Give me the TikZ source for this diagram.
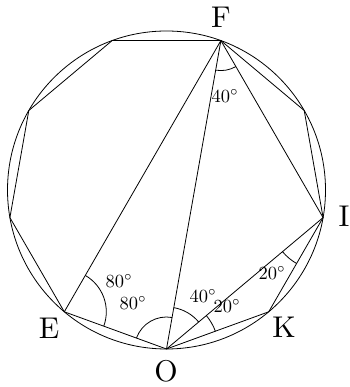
\documentclass[tikz,border=0pt]{standalone}
\usetikzlibrary{angles,calc}
\begin{document}
\begin{tikzpicture}[x=1pt,y=1pt,line width=0.8pt,
  ptlabel/.style={inner sep=0pt,scale=3},
  deglabel/.style={inner sep=0pt,scale=1.85},
  angarc/.style={draw,line width=0.8pt}]
\useasboundingbox (0,0) rectangle (349,387);
\coordinate (C) at (166.5,197);
\def\R{159}
\coordinate (O) at ($(C)+(270:\R)$);
\coordinate (K) at ($(C)+(310:\R)$);
\coordinate (I) at ($(C)+(350:\R)$);
\coordinate (P3) at ($(C)+(30:\R)$);
\coordinate (F) at ($(C)+(70:\R)$);
\coordinate (P5) at ($(C)+(110:\R)$);
\coordinate (P6) at ($(C)+(150:\R)$);
\coordinate (P7) at ($(C)+(190:\R)$);
\coordinate (E) at ($(C)+(230:\R)$);
\draw (C) circle (\R);
\draw (O) -- (K) -- (I) -- (P3) -- (F) -- (P5) -- (P6) -- (P7) -- (E) -- cycle;
\draw (E) -- (F);
\draw (F) -- (O);
\draw (F) -- (I);
\draw (O) -- (I);
\pic [angarc, angle radius=30] {angle = O--F--I};
\pic [angarc, angle radius=42] {angle = O--E--F};
\pic [angarc, angle radius=32] {angle = F--O--E};
\pic [angarc, angle radius=42] {angle = I--O--F};
\pic [angarc, angle radius=52] {angle = K--O--I};
\pic [angarc, angle radius=53] {angle = O--I--K};
\node[ptlabel] (lF) at (221,370) {F};
\node[ptlabel] (lI) at (344,171) {I};
\node[ptlabel] (lK) at (284,60) {K};
\node[ptlabel] (lE) at (49,59) {E};
\node[ptlabel] (lO) at (166,16) {O};
\node[deglabel] (aF) at (225,291) {$40^\circ$};
\node[deglabel] (aE) at (119,106) {$80^\circ$};
\node[deglabel] (aO1) at (133,84) {$80^\circ$};
\node[deglabel] (aO2) at (203,91) {$40^\circ$};
\node[deglabel] (aO3) at (227,81) {$20^\circ$};
\node[deglabel] (aI) at (272,114) {$20^\circ$};
\end{tikzpicture}
\end{document}
